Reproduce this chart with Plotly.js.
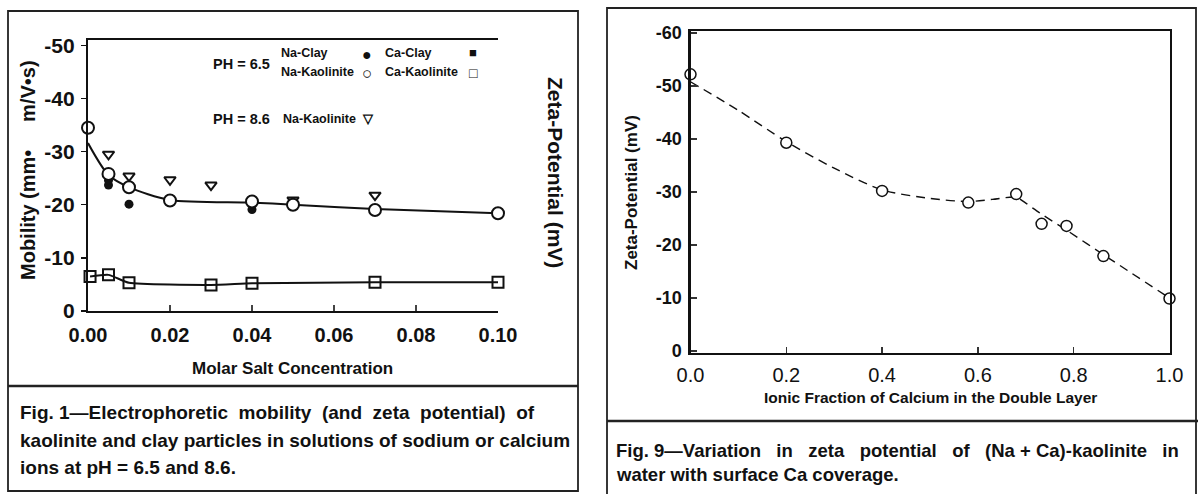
<!DOCTYPE html>
<html>
<head>
<meta charset="utf-8">
<script src="https://cdn.plot.ly/plotly-3.0.1.min.js"></script>
<style>
html,body{margin:0;padding:0;background:#fff;}
#chart{width:1198px;height:494px;}
</style>
</head>
<body>
<div id="chart"></div>
<script>
// ---------- Fig. 1 data (mobility, left axis units) ----------
const naKaolin65X = [0, 0.005, 0.01, 0.02, 0.04, 0.05, 0.07, 0.10];
const naKaolin65Y = [-34.5, -25.8, -23.3, -20.8, -20.6, -20.0, -19.0, -18.4];
const naKaolinCurveX = [0, 0.005, 0.01, 0.02, 0.04, 0.05, 0.07, 0.10];
const naKaolinCurveY = [-31.6, -25.6, -23.3, -20.9, -20.4, -20.0, -19.2, -18.4];
const naClayX = [0.005, 0.005, 0.01, 0.04];
const naClayY = [-23.7, -24.6, -20.1, -19.1];
const caClayX = [-0.001];
const caClayY = [-7.7];
const caKaolinX = [0.0005, 0.005, 0.01, 0.03, 0.04, 0.07, 0.10];
const caKaolinY = [-6.5, -6.8, -5.3, -4.9, -5.2, -5.4, -5.4];
const naKaolin86X = [0.005, 0.01, 0.02, 0.03, 0.05, 0.07];
const naKaolin86Y = [-29.5, -25.4, -24.7, -23.7, -20.9, -21.8];
const fig1XTicks = [0, 0.02, 0.04, 0.06, 0.08, 0.10];
const fig1XLabels = ["0.00", "0.02", "0.04", "0.06", "0.08", "0.10"];
const fig1YTicks = [0, -10, -20, -30, -40, -50];
const fig1YLabels = ["0", "-10", "-20", "-30", "-40", "-50"];
const fig1Y2Ticks = [0, -10, -20, -30, -40, -50, -60, -70];
const fig1Y2Labels = ["0", "-10", "-20", "-30", "-40", "-50", "-60", "-70"];

// ---------- Fig. 9 data ----------
const caFracX = [0, 0.2, 0.4, 0.58, 0.68, 0.733, 0.785, 0.862, 1.0];
const caFracZeta = [-52.2, -39.3, -30.2, -28.0, -29.6, -24.0, -23.6, -17.9, -9.9];
const fracCurveX = [0, 0.1, 0.2, 0.3, 0.4, 0.5, 0.58, 0.63, 0.68, 0.70, 0.73, 0.785, 0.86, 1.0];
const fracCurveY = [-50.8, -45.4, -39.5, -34.5, -30.4, -28.8, -28.2, -28.6, -29.0, -27.9, -26.0, -22.8, -18.3, -10.0];
const fig9XTicks = [0, 0.2, 0.4, 0.6, 0.8, 1.0];
const fig9XLabels = ["0.0", "0.2", "0.4", "0.6", "0.8", "1.0"];
const fig9YTicks = [0, -10, -20, -30, -40, -50, -60];
const fig9YLabels = ["0", "-10", "-20", "-30", "-40", "-50", "-60"];

const W = 1198, H = 494;
const px = v => v / W;
const py = v => 1 - v / H;
const FONT = '"Liberation Sans", Arial, sans-serif';

const traces = [
  {x: naKaolinCurveX, y: naKaolinCurveY, xaxis: 'x', yaxis: 'y', mode: 'lines',
   line: {color: '#111', width: 2, shape: 'spline', smoothing: 0.8}, hoverinfo: 'skip'},
  {x: caKaolinX, y: caKaolinY, xaxis: 'x', yaxis: 'y', mode: 'lines+markers',
   line: {color: '#111', width: 2, shape: 'spline', smoothing: 0.5},
   marker: {symbol: 'square-open', size: 11, color: '#111', line: {width: 2}}, cliponaxis: false},
  {x: caClayX, y: caClayY, xaxis: 'x', yaxis: 'y', mode: 'markers',
   marker: {symbol: 'square', size: 9, color: '#111'}, cliponaxis: false},
  {x: naClayX, y: naClayY, xaxis: 'x', yaxis: 'y', mode: 'markers',
   marker: {symbol: 'circle', size: 9, color: '#111'}, cliponaxis: false},
  {x: naKaolin86X, y: naKaolin86Y, xaxis: 'x', yaxis: 'y', mode: 'markers',
   marker: {symbol: 'triangle-down-open', size: 10, color: '#111', line: {width: 2}}, cliponaxis: false},
  {x: naKaolin65X, y: naKaolin65Y, xaxis: 'x', yaxis: 'y', mode: 'markers',
   marker: {symbol: 'circle', size: 12, color: '#fff', line: {width: 2, color: '#111'}}, cliponaxis: false},
  {x: fracCurveX, y: fracCurveY, xaxis: 'x2', yaxis: 'y3', mode: 'lines',
   line: {color: '#111', width: 1.4, dash: '9px,6px', shape: 'spline', smoothing: 0.8}, hoverinfo: 'skip'},
  {x: caFracX, y: caFracZeta, xaxis: 'x2', yaxis: 'y3', mode: 'markers',
   marker: {symbol: 'circle', size: 11, color: '#fff', line: {width: 1.5, color: '#111'}}, cliponaxis: false}
];

const tickFontL = {family: FONT, size: 21, color: '#111', weight: 'bold'};
const tickFontLx = {family: FONT, size: 20, color: '#111', weight: 'bold'};
const tickFontR = {family: FONT, size: 18, color: '#111', weight: 'bold'};

const layout = {
  width: W, height: H,
  margin: {l: 0, r: 0, t: 0, b: 0},
  paper_bgcolor: '#fff', plot_bgcolor: '#fff',
  showlegend: false,
  xaxis: {domain: [px(88), px(498)], range: [0, 0.10], anchor: 'y',
    tickvals: fig1XTicks, ticktext: fig1XLabels, ticks: 'inside', ticklen: 6, tickwidth: 1.2,
    tickcolor: '#444', showgrid: false, zeroline: false, showline: true, linecolor: '#111',
    linewidth: 2.2, mirror: true, tickfont: tickFontLx, ticklabelstandoff: 5},
  yaxis: {domain: [py(311), py(40)], range: [0, -51], anchor: 'x',
    tickvals: fig1YTicks, ticktext: fig1YLabels, ticks: 'outside', ticklen: 5, tickwidth: 1.5,
    tickcolor: '#111', showgrid: false, zeroline: false, showline: true, linecolor: '#111',
    linewidth: 2.2, tickfont: tickFontL, ticklabelstandoff: 2},
  yaxis2: {overlaying: 'y', side: 'right', anchor: 'x', range: [0, -70.8],
    tickvals: fig1Y2Ticks, ticktext: fig1Y2Labels, ticks: 'inside', ticklen: 7, tickwidth: 1.5,
    tickcolor: '#111', showgrid: false, zeroline: false, showline: false, tickfont: tickFontL,
    ticklabelstandoff: 4},
  xaxis2: {domain: [px(690.5), px(1169.5)], range: [0, 1.0], anchor: 'y3',
    tickvals: fig9XTicks, ticktext: fig9XLabels, ticks: 'inside', ticklen: 6, tickwidth: 1.2,
    tickcolor: '#333', showgrid: false, zeroline: false, showline: true, linecolor: '#111',
    linewidth: 2, mirror: true, tickfont: {family: FONT, size: 20, color: '#111'}, ticklabelstandoff: 3},
  yaxis3: {domain: [py(353), py(31)], range: [0.38, -60.38], anchor: 'x2',
    tickvals: fig9YTicks, ticktext: fig9YLabels, ticks: 'inside', ticklen: 6, tickwidth: 1.2,
    tickcolor: '#333', showgrid: false, zeroline: false, showline: true, linecolor: '#111',
    linewidth: 2.2, mirror: true, tickfont: tickFontR, ticklabelstandoff: 3},
  shapes: [
    // Fig. 1 frame and divider
    {type: 'rect', xref: 'paper', yref: 'paper', x0: px(8), x1: px(578), y0: py(491), y1: py(11),
     line: {color: '#222', width: 1.8}},
    {type: 'line', xref: 'paper', yref: 'paper', x0: px(8), x1: px(578), y0: py(386), y1: py(386),
     line: {color: '#222', width: 2.5}},
    // Fig. 9 frame and divider
    {type: 'rect', xref: 'paper', yref: 'paper', x0: px(607), x1: px(1196), y0: py(500), y1: py(8),
     line: {color: '#222', width: 1.8}},
    {type: 'line', xref: 'paper', yref: 'paper', x0: px(607), x1: px(1198), y0: py(421), y1: py(421),
     line: {color: '#222', width: 2.5}}
  ],
  annotations: []
};

function txt(text, x, y, size, opts) {
  opts = opts || {};
  layout.annotations.push(Object.assign({
    text: text, xref: 'paper', yref: 'paper', x: px(x), y: py(y),
    xanchor: 'left', yanchor: 'middle', showarrow: false,
    font: {family: FONT, size: size, color: '#111', weight: 'bold'}
  }, opts));
}

// Fig. 1 in-plot key
txt('PH = 6.5', 211, 64, 14.5);
txt('Na-Clay', 279, 53, 12.5);
txt('Na-Kaolinite', 279, 72, 12.5);
txt('●', 367, 54, 16, {xanchor: 'center'});
txt('○', 367, 73, 17, {xanchor: 'center'});
txt('Ca-Clay', 383, 53, 12.5);
txt('Ca-Kaolinite', 383, 72, 12.5);
txt('■', 473, 52, 13, {xanchor: 'center'});
txt('□', 473, 73, 14, {xanchor: 'center'});
txt('PH = 8.6', 211, 119, 14.5);
txt('Na-Kaolinite', 281, 119, 12.5);
txt('▽', 368, 118, 13, {xanchor: 'center'});

// Fig. 1 axis titles
txt('Molar Salt Concentration', 292, 368, 17, {xanchor: 'center'});
txt('Mobility (mm•     m/V•s)', 28, 170, 20, {xanchor: 'center', textangle: -90});
txt('Zeta-Potential (mV)', 555, 172, 21, {xanchor: 'center', textangle: 90});

// Fig. 1 caption
txt('Fig. 1—Electrophoretic&nbsp; mobility&nbsp; (and&nbsp; zeta&nbsp; potential)&nbsp; of', 18, 412, 19);
txt('kaolinite and clay particles in solutions of sodium or calcium', 18, 440, 19);
txt('ions at pH = 6.5 and 8.6.', 18, 467, 19);

// Fig. 9 axis titles
txt('Ionic Fraction of Calcium in the Double Layer', 930, 397, 15.5, {xanchor: 'center'});
txt('Zeta-Potential (mV)', 632, 193, 17, {xanchor: 'center', textangle: -90});

// Fig. 9 caption
txt('Fig. 9—Variation&nbsp;&nbsp; in&nbsp;&nbsp; zeta&nbsp;&nbsp; potential&nbsp;&nbsp; of&nbsp;&nbsp; (Na + Ca)-kaolinite&nbsp;&nbsp; in', 614, 450, 18.5);
txt('water with surface Ca coverage.', 614, 474, 18.5);

Plotly.newPlot('chart', traces, layout, {displayModeBar: false, staticPlot: true});
</script>
</body>
</html>
